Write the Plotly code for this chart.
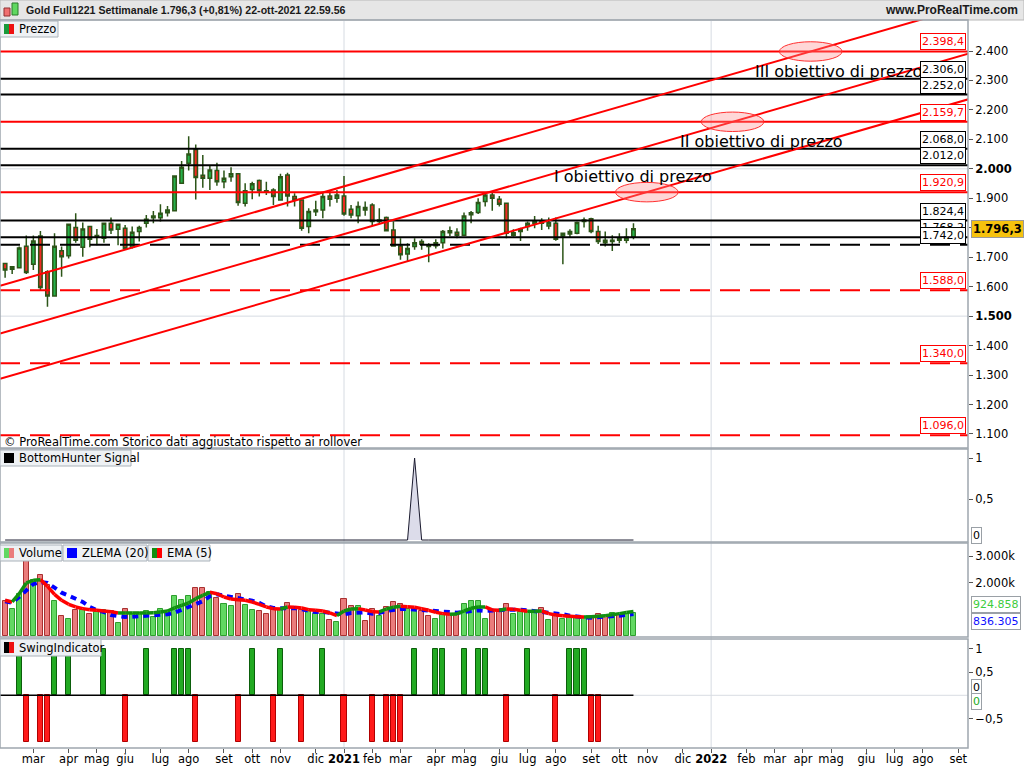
import pandas as pd
import plotly.graph_objects as go

# ---------------- DATA ----------------
dates = pd.date_range("2020-02-03", periods=90, freq="7D")

opens = [1679, 1659, 1664, 1737, 1676, 1772, 1651, 1568, 1722, 1705,
         1801, 1734, 1804, 1768, 1764, 1815, 1795, 1798, 1734, 1787,
         1815, 1834, 1834, 1851, 1858, 1951, 2019, 2066, 1978, 1968,
         1994, 1956, 1973, 1983, 1883, 1930, 1960, 1926, 1928, 1894,
         1979, 1906, 1894, 1804, 1854, 1860, 1908, 1900, 1908, 1863,
         1841, 1869, 1877, 1821, 1835, 1792, 1738, 1711, 1736, 1753,
         1742, 1739, 1749, 1790, 1785, 1775, 1844, 1852, 1889, 1911,
         1897, 1883, 1775, 1787, 1804, 1815, 1824, 1806, 1815, 1772,
         1779, 1781, 1821, 1831, 1787, 1758, 1753, 1766, 1758, 1768]
highs = [1679, 1670, 1736, 1774, 1774, 1789, 1656, 1781, 1736, 1812,
         1849, 1818, 1804, 1796, 1815, 1835, 1812, 1809, 1804, 1807,
         1843, 1857, 1880, 1874, 1976, 2027, 2111, 2083, 2047, 2013,
         2021, 1994, 2005, 1983, 1951, 1956, 1964, 1956, 1934, 1983,
         1987, 1917, 1897, 1866, 1892, 1919, 1928, 1928, 1976, 1877,
         1889, 1889, 1883, 1866, 1838, 1821, 1764, 1747, 1764, 1761,
         1747, 1761, 1792, 1804, 1798, 1852, 1857, 1900, 1917, 1919,
         1908, 1883, 1795, 1800, 1821, 1840, 1832, 1835, 1835, 1783,
         1795, 1821, 1835, 1834, 1807, 1787, 1775, 1781, 1798, 1815]
lows = [1630, 1643, 1662, 1643, 1657, 1589, 1532, 1566, 1634, 1696,
        1749, 1702, 1734, 1741, 1749, 1779, 1741, 1728, 1730, 1753,
        1801, 1815, 1821, 1838, 1855, 1949, 1994, 1896, 1936, 1928,
        1943, 1934, 1956, 1875, 1872, 1897, 1906, 1911, 1877, 1892,
        1872, 1872, 1790, 1781, 1840, 1832, 1872, 1885, 1841, 1832,
        1815, 1841, 1807, 1815, 1787, 1736, 1691, 1685, 1725, 1725,
        1683, 1730, 1730, 1772, 1764, 1772, 1815, 1847, 1872, 1858,
        1872, 1764, 1770, 1755, 1790, 1798, 1792, 1795, 1756, 1676,
        1768, 1778, 1801, 1781, 1745, 1736, 1721, 1747, 1747, 1761]
closes = [1657, 1668, 1731, 1648, 1755, 1597, 1568, 1737, 1702, 1812,
          1758, 1796, 1761, 1774, 1815, 1792, 1812, 1730, 1785, 1801,
          1829, 1840, 1849, 1860, 1976, 2005, 2050, 1971, 1968, 1996,
          1956, 1968, 1983, 1886, 1926, 1949, 1926, 1921, 1906, 1973,
          1908, 1894, 1798, 1855, 1860, 1906, 1897, 1911, 1847, 1843,
          1872, 1860, 1821, 1826, 1790, 1738, 1708, 1730, 1749, 1744,
          1736, 1749, 1787, 1783, 1775, 1840, 1851, 1886, 1911, 1900,
          1880, 1781, 1783, 1795, 1815, 1821, 1815, 1817, 1761, 1781,
          1787, 1818, 1826, 1787, 1753, 1749, 1758, 1758, 1768, 1796.3]

volume_k = [1310, 1036, 1597, 2846, 2122, 2284, 1909, 1310, 749, 661,
            973, 973, 824, 911, 973, 948, 499, 1011, 824, 874,
            948, 724, 1036, 948, 1498, 1348, 1498, 1822, 1822, 1660,
            1448, 1198, 1123, 1597, 1161, 973, 948, 849, 973, 973,
            1260, 1098, 973, 936, 849, 849, 624, 537, 1410, 1123,
            1148, 562, 1036, 774, 1098, 1273, 1223, 1036, 973, 948,
            749, 636, 786, 786, 786, 1198, 1310, 1310, 661, 911,
            911, 1223, 824, 911, 911, 911, 1073, 599, 849, 636,
            724, 724, 724, 724, 849, 749, 874, 786, 849, 886]

ema5_k = [1348, 1285, 1597, 1997, 2097, 2122, 1872, 1572, 1348, 1198,
          1098, 1036, 998, 973, 948, 924, 874, 874, 874, 874,
          874, 886, 911, 948, 1061, 1161, 1248, 1410, 1535, 1647,
          1597, 1473, 1398, 1373, 1348, 1285, 1198, 1098, 1036, 1023,
          1098, 1086, 1061, 998, 973, 948, 874, 774, 948, 1023,
          1036, 986, 924, 911, 1023, 1086, 1123, 1111, 1086, 1036,
          973, 899, 849, 824, 836, 948, 1048, 1098, 1098, 986,
          973, 1023, 1011, 973, 936, 936, 948, 849, 799, 774,
          749, 736, 724, 736, 749, 774, 811, 850, 890, 925]

zlema20_k = [1310, 1260, 1473, 1722, 1959, 2034, 1997, 1822, 1635, 1523,
             1423, 1285, 1098, 973, 911, 799, 761, 724, 736, 749,
             774, 786, 799, 824, 886, 986, 1086, 1173, 1310, 1498,
             1572, 1523, 1485, 1448, 1385, 1335, 1248, 1123, 1061, 1036,
             1048, 1061, 1011, 961, 911, 911, 886, 824, 824, 874,
             899, 899, 849, 874, 948, 998, 1023, 1023, 998, 973,
             948, 936, 911, 886, 886, 911, 948, 973, 948, 948,
             973, 998, 1011, 998, 973, 948, 924, 911, 874, 824,
             774, 736, 711, 699, 711, 724, 745, 770, 800, 836]

bottom_hunter_peak_weeks = [58]
swing_up_weeks = [2, 7, 9, 14, 20, 24, 25, 26, 35, 39, 45, 58, 61, 62, 65, 67, 68, 74, 80, 81, 82]
swing_down_weeks = [3, 5, 6, 17, 27, 33, 38, 42, 48, 52, 54, 55, 56, 71, 78, 83, 84]

levels_black = [2306.0, 2252.0, 2068.0, 2012.0, 1824.4, 1768.2]
levels_black_dashed = [1742.0]
levels_red = [2398.4, 2159.7, 1920.9]
levels_red_dashed = [1588.0, 1340.0, 1096.0]

channel_dates = ["2020-01-29", "2022-09-19"]
channel_start_price = [1603, 1441, 1287]
channel_end_price = [2557, 2395, 2240]
target_names = ["III obiettivo di prezzo", "II obiettivo di prezzo", "I obiettivo di prezzo"]
target_levels = [2398.4, 2159.7, 1920.9]

price_ticks = [1100, 1200, 1300, 1400, 1500, 1600, 1700, 1800, 1900, 2000, 2100, 2200, 2300, 2400]
price_tick_text = ["1.100", "1.200", "1.300", "1.400", "<b>1.500</b>", "1.600", "1.700", "1.800",
                   "1.900", "<b>2.000</b>", "2.100", "2.200", "2.300", "2.400"]
month_names = ["gen", "feb", "mar", "apr", "mag", "giu", "lug", "ago", "set", "ott", "nov", "dic"]

# ---------------- GEOMETRY HELPERS (pixel -> axis) ----------------
W, H = 1024, 768
PL, PR, PT, PB = 0, 968, 20, 748
X0 = pd.Timestamp("2021-01-04")
PX_PER_DAY = 1.0086


def xdate(px):
    return X0 + pd.Timedelta(days=(px - 344) / PX_PER_DAY)


def py2paper(py):
    return (PB - py) / (PB - PT)


def px2paper(px):
    return (px - PL) / (PR - PL)


def yprice(py):
    return 2400 - (py - 51) / 0.2946


FONT = "DejaVu Sans"
x_range = [xdate(0), xdate(PR)]

dom_price = [py2paper(448), 1]
dom_bh = [py2paper(542), py2paper(449)]
dom_vol = [py2paper(637), py2paper(543)]
dom_sw = [0, py2paper(639)]

fig = go.Figure()

def add_level(v, color, dash):
    fig.add_trace(go.Scatter(x=x_range, y=[v, v], mode="lines",
                             line=dict(color=color, width=2, dash=dash),
                             hoverinfo="skip", showlegend=False, xaxis="x", yaxis="y"))

for v in levels_black:
    add_level(v, "#000000", "solid")
for v in levels_black_dashed:
    add_level(v, "#000000", "20px,10px")
for v in levels_red:
    add_level(v, "#ff0000", "solid")
for v in levels_red_dashed:
    add_level(v, "#ff0000", "20px,10px")

for s, e in zip(channel_start_price, channel_end_price):
    fig.add_trace(go.Scatter(x=channel_dates, y=[s, e], mode="lines",
                             line=dict(color="#ff0000", width=2),
                             hoverinfo="skip", showlegend=False, xaxis="x", yaxis="y"))

fig.add_trace(go.Candlestick(
    x=dates, open=opens, high=highs, low=lows, close=closes,
    increasing=dict(fillcolor="#25b24a", line=dict(color="#2c5518", width=1.5)),
    decreasing=dict(fillcolor="#f02a22", line=dict(color="#2c5518", width=1.5)),
    whiskerwidth=0, showlegend=False, xaxis="x", yaxis="y", hoverinfo="skip"))

bh = [1 if i in bottom_hunter_peak_weeks else 0 for i in range(len(dates))]
fig.add_trace(go.Scatter(x=dates, y=bh, mode="lines", fill="tozeroy",
                         fillcolor="#dcdcea", line=dict(color="#1a1a2e", width=1),
                         hoverinfo="skip", showlegend=False, xaxis="x", yaxis="y2"))

up = [c >= o for o, c in zip(opens, closes)]
bar_w = 5 * 86400000
fig.add_trace(go.Bar(x=dates, y=volume_k, width=bar_w,
                     marker=dict(color=["#62d862" if u else "#ea7c7c" for u in up],
                                 line=dict(color=["#2e9e2e" if u else "#a83030" for u in up], width=1)),
                     hoverinfo="skip", showlegend=False, xaxis="x", yaxis="y3"))
fig.add_trace(go.Scatter(x=dates, y=zlema20_k, mode="lines",
                         line=dict(color="#0000ff", width=4, dash="6px,5px"),
                         hoverinfo="skip", showlegend=False, xaxis="x", yaxis="y3"))
gx, gy, rx, ry = [], [], [], []
for k in range(1, len(dates)):
    if ema5_k[k] >= ema5_k[k - 1]:
        gx += [dates[k - 1], dates[k], None]
        gy += [ema5_k[k - 1], ema5_k[k], None]
    else:
        rx += [dates[k - 1], dates[k], None]
        ry += [ema5_k[k - 1], ema5_k[k], None]
fig.add_trace(go.Scatter(x=rx, y=ry, mode="lines", line=dict(color="#ff0000", width=3.5),
                         hoverinfo="skip", showlegend=False, xaxis="x", yaxis="y3"))
fig.add_trace(go.Scatter(x=gx, y=gy, mode="lines", line=dict(color="#109010", width=3.5),
                         hoverinfo="skip", showlegend=False, xaxis="x", yaxis="y3"))

sw_up_x = [dates[i] for i in swing_up_weeks]
sw_dn_x = [dates[i] for i in swing_down_weeks]
fig.add_trace(go.Bar(x=sw_up_x, y=[1] * len(sw_up_x), width=bar_w,
                     marker=dict(color="#22aa22", line=dict(color="#0b5e0b", width=1)),
                     hoverinfo="skip", showlegend=False, xaxis="x", yaxis="y4"))
fig.add_trace(go.Bar(x=sw_dn_x, y=[-1] * len(sw_dn_x), width=bar_w,
                     marker=dict(color="#ff1a1a", line=dict(color="#b00000", width=1)),
                     hoverinfo="skip", showlegend=False, xaxis="x", yaxis="y4"))
fig.add_trace(go.Scatter(x=[dates[-1], x_range[1]], y=[0, 0], mode="lines",
                         line=dict(color="#d8dce2", width=1),
                         hoverinfo="skip", showlegend=False, xaxis="x", yaxis="y4"))
fig.add_trace(go.Scatter(x=[x_range[0], dates[-1]], y=[0, 0], mode="lines",
                         line=dict(color="#000000", width=1.5),
                         hoverinfo="skip", showlegend=False, xaxis="x", yaxis="y4"))

# ---------------- AXES ----------------
months = pd.date_range("2020-03-01", "2022-09-01", freq="MS")
tickvals, ticktext = [], []
for m in months:
    tickvals.append(m + pd.Timedelta(days=(7 - m.weekday()) % 7))
    ticktext.append(f"<b>{m.year}</b>" if m.month == 1 else month_names[m.month - 1])

axis_common = dict(side="right", anchor="x", showgrid=False, zeroline=False, showline=False,
                   ticks="outside", ticklen=4, tickcolor="#555555", automargin=False,
                   tickfont=dict(family=FONT, size=11.5, color="#000000"), fixedrange=True)

fig.update_layout(
    width=W, height=H,
    margin=dict(l=PL, r=W - PR, t=PT, b=H - PB, autoexpand=False),
    paper_bgcolor="#ffffff", plot_bgcolor="#ffffff",
    barmode="overlay", bargap=0,
    showlegend=False,
    font=dict(family=FONT, size=12, color="#000000"),
    xaxis=dict(type="date", range=x_range, anchor="y4", tickvals=tickvals, ticktext=ticktext,
               tickangle=0, automargin=False, ticklabelstandoff=-4,
               ticks="outside", ticklen=4, tickcolor="#555555", showgrid=False, zeroline=False,
               showline=False, rangeslider=dict(visible=False),
               tickfont=dict(family=FONT, size=11.5, color="#000000"), fixedrange=True),
    yaxis=dict(domain=dom_price, range=[yprice(448), yprice(20)], tickvals=price_ticks,
               ticktext=price_tick_text, **axis_common),
    yaxis2=dict(domain=dom_bh, range=[-0.024, 1.11], tickvals=[1, 0.5], ticktext=["1", "0,5"], **axis_common),
    yaxis3=dict(domain=dom_vol, range=[-26, 3494], tickvals=[2000, 3000],
                ticktext=["2.000k", "3.000k"], **axis_common),
    yaxis4=dict(domain=dom_sw, range=[-1.133, 1.21], tickvals=[1, 0.5, -0.5],
                ticktext=["1", "0,5", "\u22120,5"], **axis_common),
)

shapes = []
annotations = []

# title bar
shapes.append(dict(type="rect", xref="paper", yref="paper", x0=0, x1=W / PR,
                   y0=py2paper(20), y1=py2paper(0), fillcolor="#e6e6e6",
                   line=dict(color="#b8b8b8", width=1), layer="below"))
shapes.append(dict(type="rect", xref="paper", yref="paper", x0=px2paper(4), x1=px2paper(10),
                   y0=py2paper(16), y1=py2paper(8), fillcolor="#f07070", line=dict(color="#903030", width=1)))
shapes.append(dict(type="rect", xref="paper", yref="paper", x0=px2paper(12), x1=px2paper(18),
                   y0=py2paper(15), y1=py2paper(3), fillcolor="#60d860", line=dict(color="#2a7a2a", width=1)))
annotations.append(dict(xref="paper", yref="paper", x=px2paper(24), y=py2paper(10), xanchor="left",
                        yanchor="middle", showarrow=False,
                        text="<b>Gold Full1221 Settimanale 1.796,3 (+0,81%) 22-ott-2021 22.59.56</b>",
                        font=dict(family="Liberation Sans", size=10.6, color="#1a1a1a")))
annotations.append(dict(xref="paper", yref="paper", x=px2paper(1020), y=py2paper(10), xanchor="right",
                        yanchor="middle", showarrow=False, text="<b>www.ProRealTime.com</b>",
                        font=dict(family="Liberation Sans", size=12, color="#1a1a1a")))

# pane borders
for d in (dom_price, dom_bh, dom_vol, dom_sw):
    shapes.append(dict(type="rect", xref="paper", yref="paper", x0=0, x1=1, y0=d[0], y1=d[1],
                       line=dict(color="#9ea6ae", width=1.5), layer="above"))

for yr in ["2021-01-04", "2022-01-03"]:
    shapes.append(dict(type="line", xref="x", yref="paper", x0=yr, x1=yr, y0=0, y1=1,
                       line=dict(color="#d6dbe2", width=1), layer="below"))
for g in [1500, 2000]:
    shapes.append(dict(type="line", xref="paper", yref="y", x0=0, x1=1, y0=g, y1=g,
                       line=dict(color="#d6dbe2", width=1), layer="below"))

span_days = (pd.Timestamp(channel_dates[1]) - pd.Timestamp(channel_dates[0])).days
for (s, e), lv, name in zip(zip(channel_start_price, channel_end_price), target_levels, target_names):
    frac = (lv - s) / (e - s)
    cx = pd.Timestamp(channel_dates[0]) + pd.Timedelta(days=frac * span_days)
    shapes.append(dict(type="circle", xref="x", yref="y",
                       x0=cx - pd.Timedelta(days=31), x1=cx + pd.Timedelta(days=31),
                       y0=lv - 33, y1=lv + 33, fillcolor="rgba(255,140,140,0.35)",
                       line=dict(color="#ff3030", width=1), layer="above"))

text_pos = {"I obiettivo di prezzo": (633, 176), "II obiettivo di prezzo": (761, 141),
            "III obiettivo di prezzo": (838, 71)}
for name, (tx, ty) in text_pos.items():
    annotations.append(dict(xref="x", yref="y", x=xdate(tx), y=yprice(ty), text=name, showarrow=False,
                            xanchor="center", yanchor="middle",
                            font=dict(family=FONT, size=16, color="#000000")))

def level_label(v, color):
    txt = f"{v:,.1f}".replace(",", "X").replace(".", ",").replace("X", ".")
    annotations.append(dict(xref="paper", yref="y", x=px2paper(966), y=v, xanchor="right", yanchor="bottom",
                            yshift=1, text=txt, showarrow=False, bgcolor="#ffffff", bordercolor=color,
                            borderwidth=1, borderpad=1, font=dict(family=FONT, size=11, color=color)))

for v in levels_red + levels_red_dashed:
    level_label(v, "#ff0000")
for v in levels_black + levels_black_dashed:
    level_label(v, "#000000")

annotations.append(dict(xref="paper", yref="y", x=1, xshift=3, y=closes[-1], xanchor="left",
                        yanchor="middle", text="<b>1.796,3</b>", showarrow=False, bgcolor="#f6c20e",
                        bordercolor="#9a9a9a", borderwidth=1, borderpad=1,
                        font=dict(family=FONT, size=11.5, color="#000000")))

def axis_box(py, txt, color):
    annotations.append(dict(xref="paper", yref="paper", x=1, xshift=3, y=py2paper(py), xanchor="left",
                            yanchor="middle", text=txt, showarrow=False, bgcolor="#ffffff",
                            bordercolor="#9aa0a6", borderwidth=1, borderpad=1,
                            font=dict(family=FONT, size=11, color=color)))

axis_box(535.5, "0", "#000000")
axis_box(604, "924.858", "#3ccc3c")
axis_box(621, "836.305", "#1010ff")
axis_box(687, "0", "#000000")
axis_box(701, "0", "#22aa22")

def pane_label(x0, x1, y0, y1, text, icons):
    shapes.append(dict(type="rect", xref="paper", yref="paper", x0=px2paper(x0), x1=px2paper(x1),
                       y0=py2paper(y1), y1=py2paper(y0), fillcolor="#eef1f4",
                       line=dict(color="#aab2ba", width=1), layer="above"))
    ix = x0 + 4
    for col in icons:
        shapes.append(dict(type="rect", xref="paper", yref="paper", x0=px2paper(ix), x1=px2paper(ix + 5),
                           y0=py2paper(y1 - 3), y1=py2paper(y0 + 3), fillcolor=col,
                           line=dict(width=0), layer="above"))
        ix += 5
    annotations.append(dict(xref="paper", yref="paper", x=px2paper(ix + 3), y=py2paper((y0 + y1) / 2),
                            xanchor="left", yanchor="middle", text=text, showarrow=False,
                            font=dict(family=FONT, size=11.5, color="#000000")))

pane_label(0, 58, 21, 37, "Prezzo", ["#1a9a3a", "#ee1111"])
pane_label(0, 131, 450, 466, "BottomHunter Signal", ["#000000", "#000000"])
pane_label(0, 62, 545, 561, "Volume", ["#62d862", "#ea7c7c"])
pane_label(63, 147, 545, 561, "ZLEMA (20)", ["#0000ff", "#0000ff"])
pane_label(148, 210, 545, 561, "EMA (5)", ["#109010", "#ff0000"])
pane_label(0, 101, 639, 656, "SwingIndicator", ["#000000", "#ee1111"])

annotations.append(dict(xref="paper", yref="paper", x=px2paper(2), y=py2paper(442), xanchor="left",
                        yanchor="middle", showarrow=False,
                        text="\u00a9 ProRealTime.com Storico dati aggiustato rispetto ai rollover",
                        font=dict(family=FONT, size=11.5, color="#000000")))

fig.update_layout(shapes=shapes, annotations=annotations)
fig.write_html("out.html", config={"displayModeBar": False},
               post_script="document.body.style.margin='0px';document.body.style.padding='0px';")
